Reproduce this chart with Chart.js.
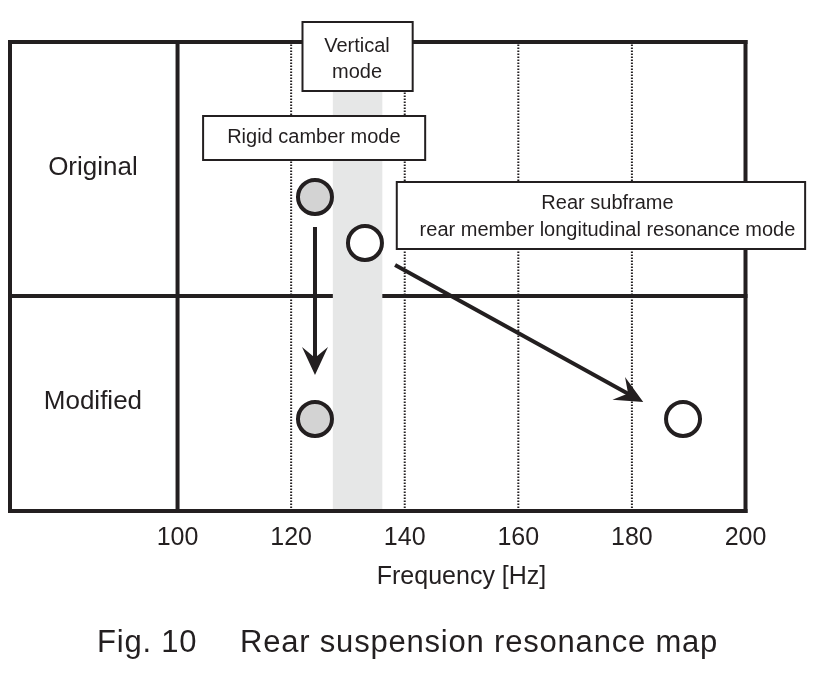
<!DOCTYPE html>
<html>
<head>
<meta charset="utf-8">
<title>Rear suspension resonance map</title>
<script src="https://cdn.jsdelivr.net/npm/chart.js@4.4.1/dist/chart.umd.min.js"></script>
<style>
  html, body { margin: 0; padding: 0; background: #fff; }
  #wrap { width: 820px; height: 687px; position: relative; }
</style>
</head>
<body>
<div id="wrap"><canvas id="resonanceMap"></canvas></div>
<script>
// Data
const xTicks = [100, 120, 140, 160, 180, 200];
const dottedHz = [120, 140, 160, 180];
const rowLabels = ['Original', 'Modified'];
const rowLabelY = [3.43, 1.09];
const rigidCamberHz = [124.2, 124.2];
const rigidCamberY = [3.14, 0.92];
const rearSubframeHz = [133.0, 189.0];
const rearSubframeY = [2.68, 0.92];
const verticalModeBand = [127.3, 136.1];

// plot range (left column holds the row labels)
const X_MIN = 70.5, X_MAX = 200, Y_MAX = 4.69, DIVIDER_Y = 2.15;

const INK = '#231f20';
const FONT = '"Liberation Sans", Arial, Helvetica, sans-serif';

// Start helper datasets
function segment(x1, y1, x2, y2, width, dash, order) {
  return {
    type: 'line',
    data: [{x: x1, y: y1}, {x: x2, y: y2}],
    borderColor: INK,
    borderWidth: width,
    borderDash: dash,
    borderCapStyle: dash.length ? 'butt' : 'square',
    pointRadius: 0,
    fill: false,
    clip: false,
    order: order
  };
}

const datasets = [];
// middle divider (under the band)
datasets.push(segment(X_MIN, DIVIDER_Y, X_MAX, DIVIDER_Y, 4, [], 50));
// vertical mode band
datasets.push({
  type: 'line',
  data: [{x: verticalModeBand[0], y: Y_MAX}, {x: verticalModeBand[1], y: Y_MAX}],
  borderWidth: 0,
  pointRadius: 0,
  fill: 'start',
  backgroundColor: '#e6e7e7',
  order: 40
});
// dotted grid
dottedHz.forEach(function(v){
  datasets.push(segment(v, 0, v, Y_MAX, 2, [1.6, 1.4], 30));
});
// frame + 100 Hz line
datasets.push(segment(X_MIN, 0, X_MIN, Y_MAX, 4, [], 20));
datasets.push(segment(X_MIN, Y_MAX, X_MAX, Y_MAX, 4, [], 20));
datasets.push(segment(X_MAX, 0, X_MAX, Y_MAX, 4, [], 20));
datasets.push(segment(X_MIN, 0, X_MAX, 0, 4, [], 20));
datasets.push(segment(100, 0, 100, Y_MAX, 4, [], 20));
// mode points
datasets.push({
  type: 'scatter',
  label: 'Rigid camber mode',
  data: rigidCamberHz.map(function(x, i){ return {x: x, y: rigidCamberY[i]}; }),
  pointRadius: 17,
  borderWidth: 4,
  borderColor: INK,
  backgroundColor: '#d3d3d3',
  order: 1
});
datasets.push({
  type: 'scatter',
  label: 'Rear subframe',
  data: rearSubframeHz.map(function(x, i){ return {x: x, y: rearSubframeY[i]}; }),
  pointRadius: 17,
  borderWidth: 4,
  borderColor: INK,
  backgroundColor: '#ffffff',
  order: 1
});
// End helper datasets

// annotation boxes, in data units
const boxes = [
  {x1: 122.0, x2: 141.4, y1: 4.20, y2: 4.89, lines: ['Vertical', 'mode'], tx: 131.6, ty: [4.65, 4.39]},
  {x1: 104.5, x2: 143.6, y1: 3.51, y2: 3.95, lines: ['Rigid camber mode'], tx: 124.0, ty: [3.74]},
  {x1: 138.6, x2: 210.5, y1: 2.62, y2: 3.29, lines: ['Rear subframe', 'rear member longitudinal resonance mode'], tx: 175.7, ty: [3.08, 2.81]}
];
const arrows = [
  {x1: 124.2, y1: 2.84, x2: 124.2, y2: 1.36},
  {x1: 138.3, y1: 2.46, x2: 182.0, y2: 1.09}
];

function drawArrow(ctx, x1, y1, x2, y2) {
  const a = Math.atan2(y2 - y1, x2 - x1);
  const len = 28, half = 13;
  const bx = x2 - Math.cos(a) * len * 0.6, by = y2 - Math.sin(a) * len * 0.6;
  ctx.strokeStyle = INK;
  ctx.lineWidth = 4;
  ctx.beginPath();
  ctx.moveTo(x1, y1);
  ctx.lineTo(bx, by);
  ctx.stroke();
  ctx.save();
  ctx.translate(x2, y2);
  ctx.rotate(a);
  ctx.fillStyle = INK;
  ctx.beginPath();
  ctx.moveTo(0, 0);
  ctx.lineTo(-len, -half);
  ctx.lineTo(-len * 0.62, 0);
  ctx.lineTo(-len, half);
  ctx.closePath();
  ctx.fill();
  ctx.restore();
}

const annotations = {
  id: 'annotations',
  afterDatasetsDraw(chart) {
    const ctx = chart.ctx, xs = chart.scales.x, ys = chart.scales.y;
    ctx.save();
    arrows.forEach(function(a){
      drawArrow(ctx, xs.getPixelForValue(a.x1), ys.getPixelForValue(a.y1),
                xs.getPixelForValue(a.x2), ys.getPixelForValue(a.y2));
    });
    ctx.font = '20px ' + FONT;
    ctx.textAlign = 'center';
    ctx.textBaseline = 'middle';
    boxes.forEach(function(b){
      const l = xs.getPixelForValue(b.x1), r = xs.getPixelForValue(b.x2);
      const t = ys.getPixelForValue(b.y2), btm = ys.getPixelForValue(b.y1);
      ctx.fillStyle = '#fff';
      ctx.fillRect(l, t, r - l, btm - t);
      ctx.strokeStyle = INK;
      ctx.lineWidth = 2;
      ctx.strokeRect(l, t, r - l, btm - t);
      ctx.fillStyle = INK;
      b.lines.forEach(function(txt, i){
        ctx.fillText(txt, xs.getPixelForValue(b.tx), ys.getPixelForValue(b.ty[i]));
      });
    });
    // row labels
    ctx.font = '26px ' + FONT;
    rowLabels.forEach(function(txt, i){
      ctx.fillText(txt, xs.getPixelForValue(85.1), ys.getPixelForValue(rowLabelY[i]));
    });
    // axis title, centred on the 100-200 span
    ctx.font = '25px ' + FONT;
    ctx.fillText('Frequency [Hz]', xs.getPixelForValue(150), 577);
    // caption
    ctx.font = '31px ' + FONT;
    ctx.letterSpacing = '0.8px';
    ctx.textAlign = 'left';
    ctx.fillText('Fig. 10', 97, 643);
    ctx.fillText('Rear suspension resonance map', 240, 643);
    ctx.restore();
  }
};

new Chart(document.getElementById('resonanceMap'), {
  data: { datasets: datasets },
  options: {
    responsive: true,
    maintainAspectRatio: false,
    animation: false,
    events: [],
    // no auto padding: the big circles would otherwise push the frame inwards
    layout: { autoPadding: false, padding: { left: 10, right: 74.5, top: 42, bottom: 0 } },
    plugins: { legend: { display: false }, tooltip: { enabled: false } },
    scales: {
      x: {
        type: 'linear',
        min: X_MIN,
        max: X_MAX,
        afterBuildTicks: function(s){ s.ticks = xTicks.map(function(v){ return {value: v}; }); },
        afterFit: function(s){ s.height = 176; s.paddingLeft = 0; },
        grid: { display: false, drawTicks: false },
        border: { display: false },
        ticks: { font: { family: FONT, size: 25 }, color: INK, padding: 12, maxRotation: 0, autoSkip: false }
      },
      y: { type: 'linear', min: 0, max: Y_MAX, display: false }
    }
  },
  plugins: [annotations]
});
</script>
</body>
</html>
